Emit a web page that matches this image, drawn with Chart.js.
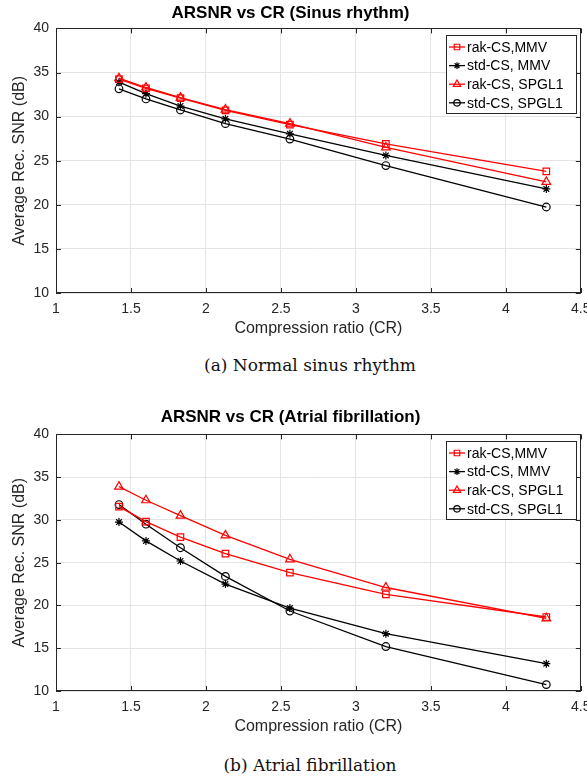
<!DOCTYPE html>
<html>
<head>
<meta charset="utf-8">
<script src="https://cdn.jsdelivr.net/npm/chart.js@4/dist/chart.umd.min.js"></script>
<style>
  body { margin: 0; background: #fff; width: 587px; height: 776px; position: relative; overflow: hidden; }
  .panel { position: absolute; left: 0; width: 587px; }
  .caption { position: absolute; left: 0; width: 620px; text-align: center;
             font-family: "DejaVu Serif", serif; font-size: 17px; line-height: 20px; color: #111; }
</style>
</head>
<body>
<div class="panel" style="top:0;height:340px"><canvas id="sinus"></canvas></div>
<div class="caption" style="top:355px">(a) Normal sinus rhythm</div>
<div class="panel" style="top:400px;height:338px"><canvas id="afib"></canvas></div>
<div class="caption" style="top:755px">(b) Atrial fibrillation</div>

<script>
// compression ratios shared by both experiments
const crValues = [1.42, 1.6, 1.83, 2.13, 2.56, 3.2, 4.27];

// ARSNR (dB), normal sinus rhythm
const sinusRakMMV   = [34.25, 33.2, 32.1, 30.7, 29.1, 26.9, 23.8];
const sinusStdMMV   = [33.9, 32.6, 31.2, 29.75, 28.05, 25.6, 21.8];
const sinusRakSPGL1 = [34.35, 33.3, 32.15, 30.8, 29.2, 26.5, 22.6];
const sinusStdSPGL1 = [33.15, 32.0, 30.75, 29.2, 27.45, 24.45, 19.75];

// ARSNR (dB), atrial fibrillation
const afibRakMMV   = [31.55, 29.8, 28.0, 26.05, 23.85, 21.3, 18.65];
const afibStdMMV   = [29.75, 27.55, 25.2, 22.5, 19.7, 16.7, 13.2];
const afibRakSPGL1 = [33.9, 32.3, 30.5, 28.2, 25.4, 22.1, 18.5];
const afibStdSPGL1 = [31.8, 29.5, 26.75, 23.4, 19.35, 15.2, 10.75];

const seriesLabels = ["rak-CS,MMV", "std-CS, MMV", "rak-CS, SPGL1", "std-CS, SPGL1"];

// axis ranges
const xRange = [1, 4.5], xStep = 0.5;
const yRange = [10, 40], yStep = 5;

const FONT = "'Liberation Sans', Arial, sans-serif";
const AXIS_COLOR = "#262626";

//Line + marker style per series, in legend order
const seriesStyle = [
    { color: "#ff0000", pointStyle: "rect",     radius: 4.6 },
    { color: "#000000", pointStyle: "star",     radius: 4 },
    { color: "#ff0000", pointStyle: "triangle", radius: 5 },
    { color: "#000000", pointStyle: "circle",   radius: 3.8 },
];

function makeDatasets(ys){
    return ys.map((y, i) => ({
        label: seriesLabels[i],
        data: crValues.map((x, j) => ({ x: x, y: y[j] })),
        borderColor: seriesStyle[i].color,
        borderWidth: 1.3,
        pointStyle: seriesStyle[i].pointStyle,
        pointRadius: seriesStyle[i].radius,
        pointBorderColor: seriesStyle[i].color,
        pointBackgroundColor: "rgba(0,0,0,0)",
        pointBorderWidth: 1.2,
        tension: 0,
        clip: false,
    }));
}

//Box round the plot area with small inward ticks on every side
const frame = {
    id: "frame",
    beforeDatasetsDraw(chart){
        let {ctx, chartArea: a, scales} = chart;
        ctx.save();
        ctx.strokeStyle = AXIS_COLOR;
        ctx.lineWidth = 1;
        ctx.beginPath();
        scales.x.ticks.forEach(t => {
            let px = Math.round(scales.x.getPixelForValue(t.value)) + 0.5;
            ctx.moveTo(px, a.bottom); ctx.lineTo(px, a.bottom - 5);
            ctx.moveTo(px, a.top); ctx.lineTo(px, a.top + 5);
        });
        scales.y.ticks.forEach(t => {
            let py = Math.round(scales.y.getPixelForValue(t.value)) + 0.5;
            ctx.moveTo(a.left, py); ctx.lineTo(a.left + 5, py);
            ctx.moveTo(a.right, py); ctx.lineTo(a.right - 5, py);
        });
        ctx.stroke();
        ctx.strokeRect(Math.round(a.left) + 0.5, Math.round(a.top) + 0.5,
                       Math.round(a.width) - 1, Math.round(a.height) - 1);
        ctx.restore();
    }
};

//Legend in the top right corner, line sample with the marker on it
const legendBox = {
    id: "legendBox",
    afterDatasetsDraw(chart){
        let {ctx, chartArea: a} = chart;
        let w = 130, h = 78;
        let x0 = Math.round(a.right - 5 - w), y0 = Math.round(a.top + 7);
        ctx.save();
        ctx.fillStyle = "#fff";
        ctx.fillRect(x0, y0, w, h);
        ctx.strokeStyle = AXIS_COLOR;
        ctx.lineWidth = 1;
        ctx.strokeRect(x0 + 0.5, y0 + 0.5, w, h);
        ctx.font = "14px " + FONT;
        ctx.textBaseline = "middle";
        chart.data.datasets.forEach((ds, i) => {
            let y = y0 + 12 + i * 18.6;
            ctx.strokeStyle = ds.borderColor;
            ctx.lineWidth = ds.borderWidth;
            ctx.beginPath();
            ctx.moveTo(x0 + 3, y);
            ctx.lineTo(x0 + 19, y);
            ctx.stroke();
            ctx.fillStyle = "rgba(0,0,0,0)";
            ctx.lineWidth = ds.pointBorderWidth;
            Chart.helpers.drawPoint(ctx, {
                pointStyle: ds.pointStyle,
                radius: ds.pointRadius * 0.85,
                borderWidth: ds.pointBorderWidth,
                rotation: 0,
            }, x0 + 11, y);
            ctx.fillStyle = "#000";
            ctx.fillText(ds.label, x0 + 21, y + 1);
        });
        ctx.restore();
    }
};

function makeChart(id, title, ys, titlePad){
    return new Chart(id, {
        type: "line",
        data: { datasets: makeDatasets(ys) },
        options: {
            responsive: true,
            maintainAspectRatio: false,
            animation: false,
            layout: { padding: { left: 0, right: 6, top: 0, bottom: 0 } },
            plugins: {
                legend: { display: false },
                tooltip: { enabled: false },
                title: {
                    display: true,
                    text: title,
                    color: "#000",
                    font: { family: FONT, size: 17, weight: "bold" },
                    padding: titlePad,
                },
            },
            scales: {
                x: {
                    type: "linear",
                    min: xRange[0],
                    max: xRange[1],
                    ticks: {
                        stepSize: xStep,
                        padding: 8,
                        color: AXIS_COLOR,
                        maxRotation: 0,
                        autoSkip: false,
                        font: { family: FONT, size: 14 },
                        callback: v => `${v}`,
                    },
                    grid: { color: "#e4e4e4", drawTicks: false },
                    border: { display: false },
                    title: {
                        display: true,
                        text: "Compression ratio (CR)",
                        color: AXIS_COLOR,
                        font: { family: FONT, size: 16 },
                        padding: 2,
                    },
                    afterFit: s => { s.height = 47; s.paddingLeft = 0; s.paddingRight = 0; },
                },
                y: {
                    type: "linear",
                    min: yRange[0],
                    max: yRange[1],
                    ticks: {
                        stepSize: yStep,
                        padding: 7,
                        color: AXIS_COLOR,
                        font: { family: FONT, size: 14 },
                    },
                    grid: { color: "#e4e4e4", drawTicks: false },
                    border: { display: false },
                    title: {
                        display: true,
                        text: "Average Rec. SNR (dB)",
                        color: AXIS_COLOR,
                        font: { family: FONT, size: 16 },
                        padding: 10,
                    },
                    afterFit: s => { s.width = 56; s.paddingTop = 0; s.paddingBottom = 0; },
                },
            },
        },
        plugins: [frame, legendBox],
    });
}

makeChart("sinus", "ARSNR vs CR (Sinus rhythm)",
    [sinusRakMMV, sinusStdMMV, sinusRakSPGL1, sinusStdSPGL1], { top: 3, bottom: 5 });
makeChart("afib", "ARSNR vs CR (Atrial fibrillation)",
    [afibRakMMV, afibStdMMV, afibRakSPGL1, afibStdSPGL1], { top: 7, bottom: 7 });
</script>
</body>
</html>
